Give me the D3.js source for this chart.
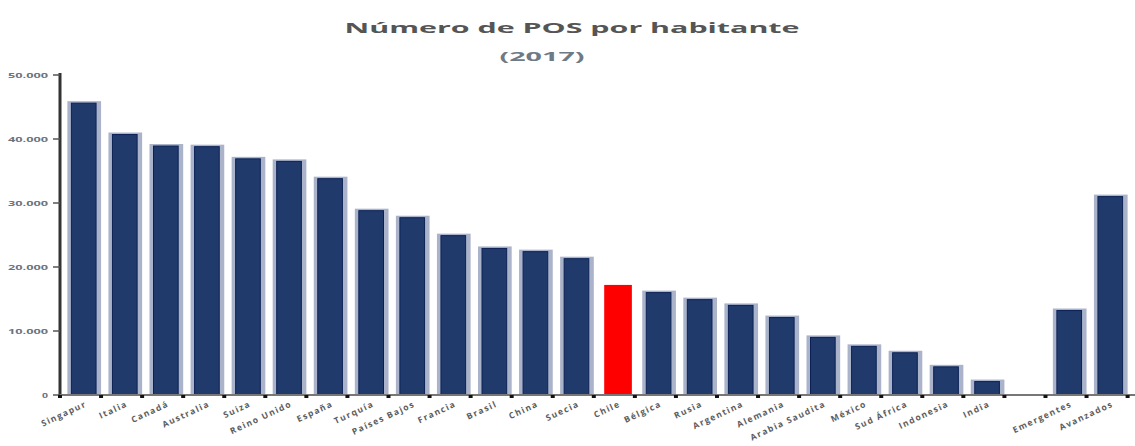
<!DOCTYPE html>
<html>
<head>
<meta charset="utf-8">
<script src="https://cdn.jsdelivr.net/npm/d3@7"></script>
<style>
  body { margin: 0; background: #fff; }
  svg { display: block; font-family: "Open Sans", "DejaVu Sans", sans-serif; }
</style>
</head>
<body>
<svg id="chart" width="1135" height="446"></svg>
<script>
// datos (POS por millon de habitantes, 2017)
var paises = ["Singapur", "Italia", "Canadá", "Australia", "Suiza", "Reino Unido", "España",
  "Turquía", "Países Bajos", "Francia", "Brasil", "China", "Suecia", "Chile", "Bélgica",
  "Rusia", "Argentina", "Alemania", "Arabia Saudita", "México", "Sud África", "Indonesia",
  "India", "", "Emergentes", "Avanzados"];
var valores = [45600, 40700, 38900, 38800, 36900, 36500, 33800, 28800, 27700, 24900, 22900,
  22400, 21300, 17200, 16000, 14900, 14000, 12100, 9000, 7600, 6600, 4400, 2100, null,
  13200, 31000];
var destacado = "Chile";
var yTicks = [0, 10000, 20000, 30000, 40000, 50000];
var yTickLabels = ["0", "10.000", "20.000", "30.000", "40.000", "50.000"];

var svg = d3.select("#chart");
var mLeft = 60, mRight = 1135, mTop = 75, mBottom = 395;

var x = d3.scaleBand().domain(d3.range(paises.length)).range([mLeft, mRight]).padding(0.18);
var y = d3.scaleLinear().domain([0, 50000]).range([mBottom, mTop]);

// titulo
svg.append("text").attr("x", 572).attr("y", 33).attr("text-anchor", "middle")
  .attr("textLength", 455).attr("lengthAdjust", "spacingAndGlyphs")
  .style("font-size", "15px").style("font-weight", "bold").style("fill", "#555")
  .text("Número de POS por habitante");
svg.append("text").attr("x", 542).attr("y", 61).attr("text-anchor", "middle")
  .attr("textLength", 85).attr("lengthAdjust", "spacingAndGlyphs")
  .style("font-size", "12px").style("font-weight", "bold").style("fill", "#6e7a86")
  .text("(2017)");

// barras
var datos = paises.map(function (p, i) { return { pais: p, valor: valores[i], i: i }; })
  .filter(function (d) { return d.valor !== null; });

var g = svg.append("g");
var bw = x.bandwidth();

g.selectAll("rect.sombra").data(datos.filter(function (d) { return d.pais !== destacado; }))
  .enter().append("rect").attr("class", "sombra")
  .attr("x", function (d) { return x(d.i); })
  .attr("y", function (d) { return y(d.valor) - 2; })
  .attr("width", bw)
  .attr("height", function (d) { return mBottom - y(d.valor) + 2; })
  .attr("fill", "#aab3ca");

g.selectAll("rect.barra").data(datos).enter().append("rect").attr("class", "barra")
  .attr("x", function (d) { return x(d.i) + (d.pais === destacado ? 3 : 4); })
  .attr("y", function (d) { return y(d.valor); })
  .attr("width", function (d) { return d.pais === destacado ? bw - 6 : bw - 9; })
  .attr("height", function (d) { return mBottom - y(d.valor); })
  .attr("fill", function (d) { return d.pais === destacado ? "#ff0000" : "#203a6b"; })
  .attr("stroke", function (d) { return d.pais === destacado ? "none" : "#0c2256"; })
  .attr("stroke-width", 1);

// eje y
svg.append("line").attr("x1", mLeft).attr("x2", mLeft).attr("y1", mTop - 2).attr("y2", mBottom + 2)
  .attr("stroke", "#333").attr("stroke-width", 3);
svg.selectAll("line.ytick").data(yTicks).enter().append("line").attr("class", "ytick")
  .attr("x1", mLeft - 7).attr("x2", mLeft)
  .attr("y1", function (d) { return y(d); }).attr("y2", function (d) { return y(d); })
  .attr("stroke", "#555").attr("stroke-width", 1.5);
svg.selectAll("text.ylab").data(yTicks).enter().append("text").attr("class", "ylab")
  .attr("x", 48).attr("y", function (d) { return y(d) + 2.5; })
  .attr("text-anchor", "end")
  .attr("textLength", function (d, i) { return yTickLabels[i].length > 1 ? 40 : 6; })
  .attr("lengthAdjust", "spacingAndGlyphs")
  .style("font-size", "7px").style("font-weight", "bold").style("fill", "#6a7480")
  .text(function (d, i) { return yTickLabels[i]; });

// eje x
svg.append("line").attr("x1", mLeft).attr("x2", mRight).attr("y1", mBottom).attr("y2", mBottom)
  .attr("stroke", "#777").attr("stroke-width", 2);
svg.selectAll("line.xtick").data(d3.range(paises.length + 1)).enter().append("line")
  .attr("class", "xtick")
  .attr("x1", function (d) { return mLeft + d * x.step(); })
  .attr("x2", function (d) { return mLeft + d * x.step(); })
  .attr("y1", mBottom).attr("y2", mBottom + 3)
  .attr("stroke", "#111").attr("stroke-width", 4);

svg.selectAll("text.xlab").data(datos).enter().append("text").attr("class", "xlab")
  .attr("text-anchor", "end")
  .attr("transform", function (d) {
    return "translate(" + (x(d.i) + bw / 2 + 3) + "," + (mBottom + 11) + ") rotate(-25)";
  })
  .style("font-size", "8.5px").style("font-weight", "bold").style("fill", "#5c5c5c")
  .style("letter-spacing", "1.4px")
  .text(function (d) { return d.pais; });
</script>
</body>
</html>
